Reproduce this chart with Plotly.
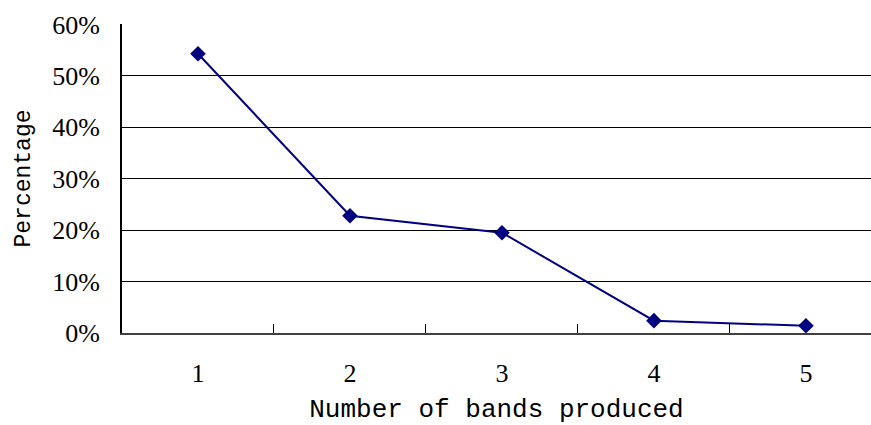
import plotly.graph_objects as go

categories = ["1", "2", "3", "4", "5"]
percentages = [0.543, 0.228, 0.195, 0.024, 0.014]
y_ticks = [0, 0.1, 0.2, 0.3, 0.4, 0.5, 0.6]

NAVY = "#000080"

fig = go.Figure()
fig.add_trace(go.Scatter(
    x=categories, y=percentages, mode="lines+markers",
    line=dict(color=NAVY, width=2),
    marker=dict(symbol="diamond", size=12, color=NAVY),
    showlegend=False, cliponaxis=False,
))

fig.update_layout(
    width=871, height=425,
    margin=dict(l=122, r=0, t=24, b=92),
    paper_bgcolor="white", plot_bgcolor="white",
    font=dict(family="Liberation Serif", color="black"),
    xaxis=dict(
        type="category", range=[-0.5, 4.428],
        tickson="boundaries", ticks="inside", ticklen=9, tickcolor="black",
        showgrid=False, showline=True, linecolor="#404040", linewidth=2,
        tickfont=dict(family="Liberation Serif", size=26),
        ticklabelstandoff=16,
        title=dict(text="Number of bands produced",
                   font=dict(family="Liberation Mono", size=26), standoff=26),
        automargin=False, zeroline=False,
    ),
    yaxis=dict(
        range=[0, 0.6008], tickvals=y_ticks, tickformat=".0%",
        ticks="inside", ticklen=10, tickcolor="black",
        showgrid=True, gridcolor="black", gridwidth=1,
        showline=True, linecolor="black", linewidth=2,
        tickfont=dict(family="Liberation Serif", size=26),
        ticklabelstandoff=15,
        title=dict(text="Percentage",
                   font=dict(family="Liberation Mono", size=23), standoff=15),
        automargin=False, zeroline=False,
    ),
)

fig.write_html(
    "out.html",
    config={"displayModeBar": False},
    post_script=(
        "document.body.style.margin='0';"
        "document.body.style.overflow='hidden';"
        "document.documentElement.style.overflow='hidden';"
    ),
)
